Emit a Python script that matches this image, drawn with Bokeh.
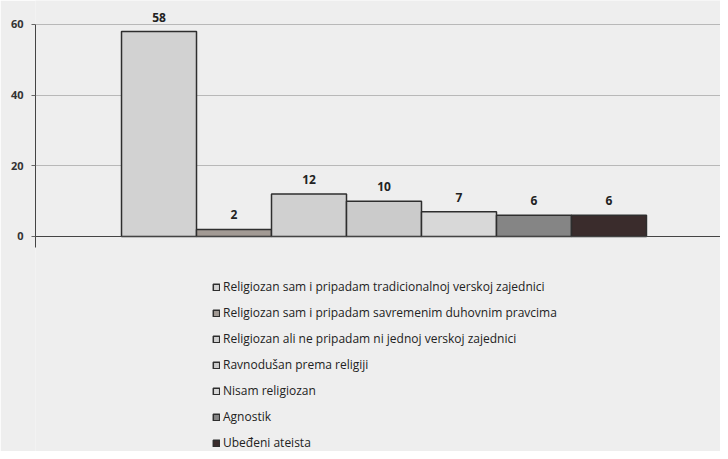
from bokeh.plotting import figure
from bokeh.models import ColumnDataSource, LabelSet, Legend, LegendItem, FixedTicker, Range1d, Span
from bokeh.core.properties import value
from bokeh.embed import file_html
from bokeh.resources import INLINE

categories = [
    "Religiozan sam i pripadam tradicionalnoj verskoj zajednici",
    "Religiozan sam i pripadam savremenim duhovnim pravcima",
    "Religiozan ali ne pripadam ni jednoj verskoj zajednici",
    "Ravnodušan prema religiji",
    "Nisam religiozan",
    "Agnostik",
    "Ubeđeni ateista",
]
values = [58, 2, 12, 10, 7, 6, 6]
colors = ["#d2d2d2", "#a29a94", "#d0d0d0", "#cbcbcb", "#d8d8d8", "#858585", "#3a2c2c"]
y_ticks = [0, 20, 40, 60]

BG = "#eeeeee"
FONT = "Open Sans"

src = ColumnDataSource(dict(
    x=list(range(len(values))),
    top=values,
    color=colors,
    label=categories,
    txt=[str(v) for v in values],
))

p = figure(width=720, height=451, output_backend="svg", toolbar_location=None,
           x_range=Range1d(-1.647, 7.487), y_range=Range1d(-60.85, 66.79),
           min_border_left=35, min_border_top=0, min_border_right=0, min_border_bottom=0,
           background_fill_color=BG, border_fill_color=BG, outline_line_color=None)

r = p.vbar(x="x", top="top", width=1.0, bottom=0, fill_color="color",
           line_color="#2e2e2e", line_width=1.5, source=src)

labels = LabelSet(x="x", y="top", text="txt", source=src, y_offset=10,
                  text_align="center", text_baseline="bottom",
                  text_font=value(FONT), text_font_size=value("12px"),
                  text_color=value("#222222"), text_font_style=value("bold"))
p.add_layout(labels)

p.add_layout(Span(location=0, dimension="width", line_color="#444444", line_width=1.2))

p.ygrid.ticker = FixedTicker(ticks=y_ticks)
p.ygrid.grid_line_color = "#b8b8b8"
p.ygrid.grid_line_width = 1
p.xgrid.grid_line_color = None

p.yaxis.ticker = FixedTicker(ticks=y_ticks)
p.yaxis.bounds = (-3, 60)
p.yaxis.axis_line_color = "#444444"
p.yaxis.major_tick_out = 4
p.yaxis.major_tick_in = 0
p.yaxis.major_tick_line_color = "#666666"
p.yaxis.minor_tick_line_color = None
p.yaxis.major_label_standoff = 8
p.yaxis.major_label_text_font = FONT
p.yaxis.major_label_text_font_size = "11px"
p.yaxis.major_label_text_font_style = "bold"
p.yaxis.major_label_text_color = "#333333"

p.xaxis.visible = False

items = [LegendItem(label=categories[i], renderers=[r], index=i) for i in range(len(categories))]
legend = Legend(items=items, location=(177, 0), orientation="vertical",
                background_fill_alpha=0, border_line_color=None,
                padding=0, margin=0, spacing=9,
                glyph_width=8, glyph_height=8, label_height=12, label_standoff=3,
                label_text_font=FONT, label_text_font_size="12px", label_text_color="#222222")
p.add_layout(legend, "center")

open("out.html", "w").write(file_html(p, INLINE))
